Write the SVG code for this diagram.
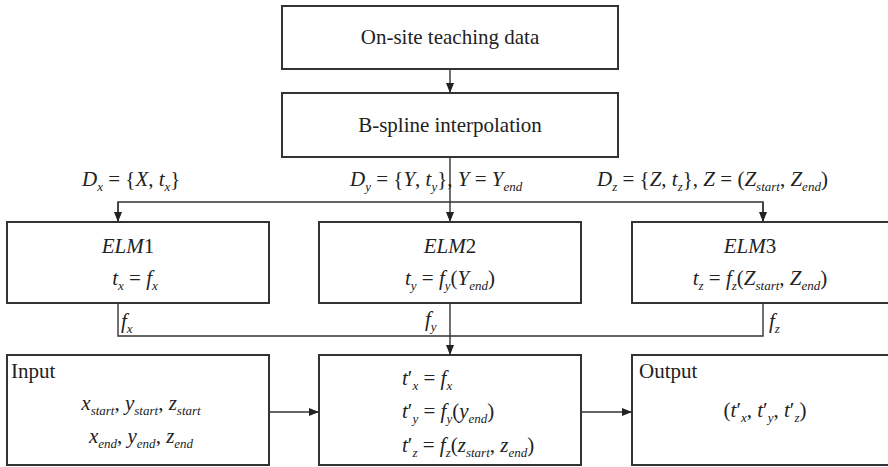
<svg xmlns="http://www.w3.org/2000/svg" width="888" height="467" viewBox="0 0 888 467">
<style>
.box{fill:#fff;stroke:#333;stroke-width:2}
.c{fill:none;stroke:#333;stroke-width:1.4}
text{font-family:'Liberation Serif','DejaVu Serif','Noto Serif',serif;fill:#222}
.t{font-size:21px}
.m{font-size:21px;font-style:italic}
.u{font-style:normal}
.s{font-size:13px}
</style>
<defs>
<marker id="ah" markerWidth="10" markerHeight="8" refX="10" refY="4" orient="auto" markerUnits="userSpaceOnUse">
<path d="M0,0 L10,4 L0,8 z" fill="#222"/>
</marker>
</defs>
<rect width="888" height="467" fill="#fff"/>
<g id="connectors">
<line class="c" x1="450" y1="69" x2="450" y2="93" marker-end="url(#ah)"/>
<line class="c" x1="450" y1="157" x2="450" y2="222" marker-end="url(#ah)"/>
<polyline class="c" points="118,222 118,202 763,202 763,222"/>
<line class="c" x1="118" y1="202" x2="118" y2="222" marker-end="url(#ah)"/>
<line class="c" x1="763" y1="202" x2="763" y2="222" marker-end="url(#ah)"/>
<polyline class="c" points="118,303 118,336 763,336 763,303"/>
<line class="c" x1="450" y1="303" x2="450" y2="355" marker-end="url(#ah)"/>
<line class="c" x1="268" y1="412" x2="319" y2="412" marker-end="url(#ah)"/>
<line class="c" x1="581" y1="412" x2="632" y2="412" marker-end="url(#ah)"/>
</g>
<g id="labels">
<text class="m" x="82" y="186">D<tspan class="s" dy="5">x</tspan><tspan class="u" dy="-5"> = {</tspan>X<tspan class="u">, </tspan>t<tspan class="s" dy="5">x</tspan><tspan class="u" dy="-5">}</tspan></text>
<text class="m" x="350" y="186">D<tspan class="s" dy="5">y</tspan><tspan class="u" dy="-5"> = {</tspan>Y<tspan class="u">, </tspan>t<tspan class="s" dy="5">y</tspan><tspan class="u" dy="-5">}, </tspan>Y<tspan class="u"> = </tspan>Y<tspan class="s" dy="5">end</tspan></text>
<text class="m" x="597" y="186">D<tspan class="s" dy="5">z</tspan><tspan class="u" dy="-5"> = {</tspan>Z<tspan class="u">, </tspan>t<tspan class="s" dy="5">z</tspan><tspan class="u" dy="-5">}, </tspan>Z<tspan class="u"> = (</tspan>Z<tspan class="s" dy="5">start</tspan><tspan class="u" dy="-5">, </tspan>Z<tspan class="s" dy="5">end</tspan><tspan class="u" dy="-5">)</tspan></text>
<text class="m" x="121" y="328">f<tspan class="s" dy="5">x</tspan></text>
<text class="m" x="425" y="326">f<tspan class="s" dy="5">y</tspan></text>
<text class="m" x="769" y="328">f<tspan class="s" dy="5">z</tspan></text>
</g>
<g id="onsite">
<rect class="box" x="282" y="6" width="336" height="63"/>
<text class="t" x="450" y="44" text-anchor="middle">On-site teaching data</text>
</g>
<g id="bspline">
<rect class="box" x="282" y="93" width="336" height="64"/>
<text class="t" x="450" y="132" text-anchor="middle">B-spline interpolation</text>
</g>
<g id="elm1">
<rect class="box" x="7" y="222" width="262" height="81"/>
<text class="m" x="128" y="253" text-anchor="middle">ELM<tspan class="u">1</tspan></text>
<text class="m" x="135" y="285" text-anchor="middle">t<tspan class="s" dy="5">x</tspan><tspan class="u" dy="-5"> = </tspan>f<tspan class="s" dy="5">x</tspan></text>
</g>
<g id="elm2">
<rect class="box" x="319" y="222" width="262" height="81"/>
<text class="m" x="450" y="253" text-anchor="middle">ELM<tspan class="u">2</tspan></text>
<text class="m" x="450" y="285" text-anchor="middle">t<tspan class="s" dy="5">y</tspan><tspan class="u" dy="-5"> = </tspan>f<tspan class="s" dy="5">y</tspan><tspan class="u" dy="-5">(</tspan>Y<tspan class="s" dy="5">end</tspan><tspan class="u" dy="-5">)</tspan></text>
</g>
<g id="elm3">
<rect class="box" x="632" y="222" width="270" height="81"/>
<text class="m" x="750" y="253" text-anchor="middle">ELM<tspan class="u">3</tspan></text>
<text class="m" x="760" y="285" text-anchor="middle">t<tspan class="s" dy="5">z</tspan><tspan class="u" dy="-5"> = </tspan>f<tspan class="s" dy="5">z</tspan><tspan class="u" dy="-5">(</tspan>Z<tspan class="s" dy="5">start</tspan><tspan class="u" dy="-5">, </tspan>Z<tspan class="s" dy="5">end</tspan><tspan class="u" dy="-5">)</tspan></text>
</g>
<g id="input">
<rect class="box" x="7" y="355" width="262" height="110"/>
<text class="t" x="11" y="378">Input</text>
<text class="m" x="141" y="410" text-anchor="middle">x<tspan class="s" dy="5">start</tspan><tspan class="u" dy="-5">, </tspan>y<tspan class="s" dy="5">start</tspan><tspan class="u" dy="-5">, </tspan>z<tspan class="s" dy="5">start</tspan></text>
<text class="m" x="141" y="443" text-anchor="middle">x<tspan class="s" dy="5">end</tspan><tspan class="u" dy="-5">, </tspan>y<tspan class="s" dy="5">end</tspan><tspan class="u" dy="-5">, </tspan>z<tspan class="s" dy="5">end</tspan></text>
</g>
<g id="compute">
<rect class="box" x="319" y="355" width="262" height="110"/>
<text class="m" x="402" y="385">t<tspan class="u">′</tspan><tspan class="s" dy="5">x</tspan><tspan class="u" dy="-5"> = </tspan>f<tspan class="s" dy="5">x</tspan></text>
<text class="m" x="402" y="418">t<tspan class="u">′</tspan><tspan class="s" dy="5">y</tspan><tspan class="u" dy="-5"> = </tspan>f<tspan class="s" dy="5">y</tspan><tspan class="u" dy="-5">(</tspan>y<tspan class="s" dy="5">end</tspan><tspan class="u" dy="-5">)</tspan></text>
<text class="m" x="402" y="452">t<tspan class="u">′</tspan><tspan class="s" dy="5">z</tspan><tspan class="u" dy="-5"> = </tspan>f<tspan class="s" dy="5">z</tspan><tspan class="u" dy="-5">(</tspan>z<tspan class="s" dy="5">start</tspan><tspan class="u" dy="-5">, </tspan>z<tspan class="s" dy="5">end</tspan><tspan class="u" dy="-5">)</tspan></text>
</g>
<g id="output">
<rect class="box" x="632" y="355" width="270" height="110"/>
<text class="t" x="639" y="378">Output</text>
<text class="m" x="765" y="417" text-anchor="middle"><tspan class="u">(</tspan>t<tspan class="u">′</tspan><tspan class="s" dy="5">x</tspan><tspan class="u" dy="-5">, </tspan>t<tspan class="u">′</tspan><tspan class="s" dy="5">y</tspan><tspan class="u" dy="-5">, </tspan>t<tspan class="u">′</tspan><tspan class="s" dy="5">z</tspan><tspan class="u" dy="-5">)</tspan></text>
</g>
</svg>
